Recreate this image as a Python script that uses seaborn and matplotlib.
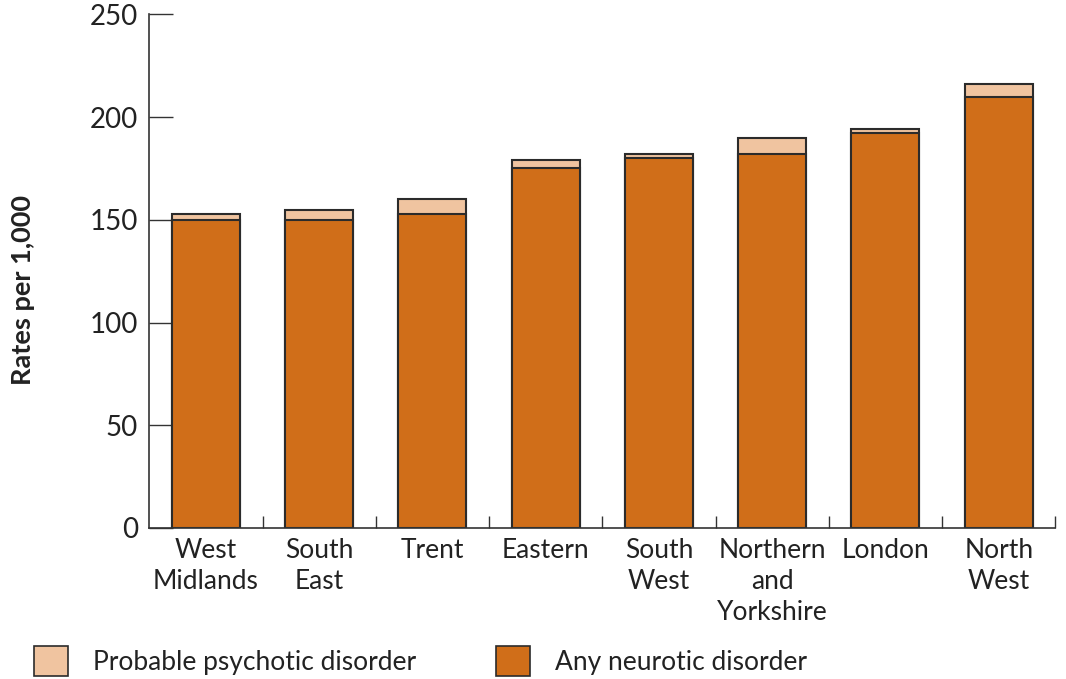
import matplotlib
matplotlib.use("Agg")
import matplotlib.pyplot as plt
import seaborn as sns
import pandas as pd
from matplotlib.patches import Patch

regions = ["West\nMidlands", "South\nEast", "Trent", "Eastern", "South\nWest",
           "Northern\nand\nYorkshire", "London", "North\nWest"]
neurotic = [150, 150, 153, 175, 180, 182, 192, 210]
psychotic = [3, 5, 7, 4, 2, 8, 2, 6]

col_neurotic = "#D06E19"
col_psychotic = "#F0C4A0"
edge = "#2b2b2b"

df = pd.DataFrame({"region": regions, "neurotic": neurotic, "psychotic": psychotic})
df["total"] = df["neurotic"] + df["psychotic"]

sns.set_style("white")
plt.rcParams["font.family"] = ["Lato", "DejaVu Sans"]

fig = plt.figure(figsize=(10.66, 6.79), dpi=100)
ax = fig.add_axes([0.140, 0.2224, 0.850, 0.7565])

# stacked look: total bar (light) behind, neurotic bar in front
sns.barplot(data=df, x="region", y="total", color=col_psychotic, width=0.6,
            edgecolor=edge, linewidth=1.5, saturation=1, ax=ax)
sns.barplot(data=df, x="region", y="neurotic", color=col_neurotic, width=0.6,
            edgecolor=edge, linewidth=1.5, saturation=1, ax=ax)

ax.set_xlim(-0.5, 7.5)
ax.set_ylim(0, 250)
ax.set_yticks([0, 50, 100, 150, 200, 250])
ax.set_xticks([i + 0.5 for i in range(8)])
ax.set_xticklabels([])
ax.tick_params(axis="y", direction="in", length=17, width=1, color="#333333",
               labelsize=20, pad=8, left=True, labelcolor="#222222")
ax.tick_params(axis="x", direction="in", length=9, width=1, color="#333333", bottom=True)

for i, r in enumerate(regions):
    ax.text(i, -5, r, ha="center", va="top", fontsize=19, color="#222222",
            linespacing=1.3)

for s in ["top", "right"]:
    ax.spines[s].set_visible(False)
for s in ["left", "bottom"]:
    ax.spines[s].set_color("#333333")
    ax.spines[s].set_linewidth(1.2)

ax.set_xlabel("")
ax.set_ylabel("")
fig.text(0.022, 0.573, "Rates per 1,000", rotation=90, ha="center", va="center",
         fontsize=19.5, fontweight="bold", color="#222222")

handles = [Patch(facecolor=col_psychotic, edgecolor=edge, linewidth=1.2, label="Probable psychotic disorder"),
           Patch(facecolor=col_neurotic, edgecolor=edge, linewidth=1.2, label="Any neurotic disorder")]
fig.legend(handles=handles, loc="lower left", bbox_to_anchor=(0.032, 0.004), ncol=2,
           frameon=False, fontsize=19, handlelength=1.3, handleheight=1.4,
           handletextpad=0.95, columnspacing=3.0, labelcolor="#222222",
           borderpad=0, borderaxespad=0)

fig.savefig("out.png", dpi=100)
